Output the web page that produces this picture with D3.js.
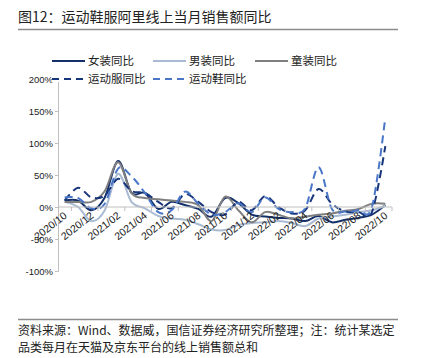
<!DOCTYPE html>
<html>
<head>
<meta charset="utf-8">
<script src="https://cdn.jsdelivr.net/npm/d3@7"></script>
<style>
  body { margin: 0; background: #fff; }
  svg { display: block; font-family: "Liberation Sans", Arial, "Noto Sans CJK SC", sans-serif; }
  .cjk { font-family: "Noto Sans CJK SC", "Noto Sans", sans-serif; }
</style>
</head>
<body>
<div id="chart"></div>
<script>
// months 2020/10 .. 2022/10
const months = ['2020/10','2020/11','2020/12','2021/01','2021/02','2021/03','2021/04','2021/05','2021/06',
  '2021/07','2021/08','2021/09','2021/10','2021/11','2021/12','2022/01','2022/02','2022/03','2022/04',
  '2022/05','2022/06','2022/07','2022/08','2022/09','2022/10'];
const tickLabels = months.filter((m, i) => i % 2 === 0);
const yTicks = [-100, -50, 0, 50, 100, 150, 200];

// 同比 (%)
const womens  = [10, 10, -5, 15, 72, 22, 22, -3, 8, 3, -3, -15, 14, 6, -12, -15, -17, -18, -22, -14, -24, -20, -17, -12, 3];
const mens    = [8, 0, -22, -5, 52, 8, -2, -14, -18, -20, -27, -35, -36, -28, -25, -24, -22, -25, -30, -18, -15, -12, -8, -5, 2];
const kids    = [8, 8, 8, 25, 70, 22, 14, 12, 10, 8, 3, -22, 16, -5, -24, -8, -12, -18, -15, -12, -10, -6, -3, 5, 5];
const apparel = [10, 30, 15, 18, 44, 25, 22, 8, -2, 20, 8, -8, -12, 8, -5, 17, 0, -10, -5, 28, 5, -7, -8, -8, 95];
const shoes   = [15, 14, -2, 5, 60, 48, 22, -8, -5, 24, 5, -12, -8, 6, -8, 15, -3, -8, -2, 62, -3, -7, -5, 0, 140];

const series = [
  { name: '女装同比', values: womens, color: '#13306b', dash: null },
  { name: '男装同比', values: mens, color: '#a9bbd3', dash: null },
  { name: '童装同比', values: kids, color: '#7f7f7f', dash: null },
  { name: '运动服同比', values: apparel, color: '#17357a', dash: '8,5' },
  { name: '运动鞋同比', values: shoes, color: '#4a76c8', dash: '8,5' }
];

const W = 424, H = 358;
const plot = { left: 58, right: 392, top: 79, bottom: 271 };

const svg = d3.select('#chart').append('svg').attr('width', W).attr('height', H);

// title
svg.append('text').attr('class', 'cjk').attr('x', 18).attr('y', 22)
  .attr('font-size', 14).attr('fill', '#222')
  .text('图12：运动鞋服阿里线上当月销售额同比');
svg.append('line').attr('x1', 18).attr('x2', 398).attr('y1', 29.5).attr('y2', 29.5)
  .attr('stroke', '#8c8c8c').attr('stroke-width', 1.5);

const x = d3.scalePoint().domain(months).range([plot.left, plot.right]).padding(0.5);
const band = d3.scaleBand().domain(months).range([plot.left, plot.right]);
const y = d3.scaleLinear().domain([-100, 200]).range([plot.bottom, plot.top]);

// y axis
const yAxis = svg.append('g').attr('transform', `translate(${plot.left},0)`)
  .call(d3.axisLeft(y).tickValues(yTicks).tickSize(3).tickFormat(d => d + '%'));
yAxis.select('.domain').attr('stroke', '#bfbfbf');
yAxis.selectAll('.tick line').attr('stroke', '#bfbfbf');
yAxis.selectAll('.tick text').attr('font-size', 9.5).attr('fill', '#222').attr('x', -5);

// x axis on the zero line
const xg = svg.append('g');
xg.append('line').attr('x1', plot.left).attr('x2', plot.right)
  .attr('y1', y(0)).attr('y2', y(0)).attr('stroke', '#bfbfbf');
const tickPos = months.filter((m, i) => i % 2 === 1).map(m => band(m)).concat([plot.right]);
xg.selectAll('.xt').data(tickPos).join('line').attr('class', 'xt')
  .attr('x1', d => d).attr('x2', d => d).attr('y1', y(0)).attr('y2', y(0) + 4)
  .attr('stroke', '#bfbfbf');

// lines
const line = d3.line().x((d, i) => x(months[i])).y(d => y(d)).curve(d3.curveCardinal.tension(0));
svg.selectAll('.series').data(series).join('path').attr('class', 'series')
  .attr('d', d => line(d.values))
  .attr('fill', 'none').attr('stroke', d => d.color).attr('stroke-width', 2)
  .attr('stroke-dasharray', d => d.dash);

// x tick labels (drawn after the lines)
xg.raise();
xg.selectAll('.xl').data(tickLabels).join('text').attr('class', 'xl')
  .attr('transform', d => `translate(${x(d) + 3},${y(0) + 10}) rotate(-38)`)
  .attr('text-anchor', 'end').attr('font-size', 10.5).attr('fill', '#222')
  .text(d => d);

// legend
const legendPos = [[52, 61], [153, 61], [255, 61], [52, 79], [153, 79]];
const lg = svg.selectAll('.lg').data(series).join('g').attr('class', 'lg')
  .attr('transform', (d, i) => `translate(${legendPos[i][0]},${legendPos[i][1]})`);
lg.append('rect').attr('x', 0).attr('y', -3).attr('width', 36).attr('height', 6).attr('fill', '#fff');
lg.append('line').attr('x1', 0).attr('x2', 33).attr('y1', 0).attr('y2', 0)
  .attr('stroke', d => d.color).attr('stroke-width', 2.2).attr('stroke-dasharray', d => d.dash ? '7,5' : null);
lg.append('text').attr('class', 'cjk').attr('x', 36).attr('y', 4)
  .attr('font-size', 11.5).attr('fill', '#222').text(d => d.name);

// source
svg.append('line').attr('x1', 18).attr('x2', 398).attr('y1', 319.5).attr('y2', 319.5)
  .attr('stroke', '#8c8c8c').attr('stroke-width', 1.5);
const src = ['资料来源：Wind、数据威，国信证券经济研究所整理；注：统计某选定', '品类每月在天猫及京东平台的线上销售额总和'];
svg.selectAll('.src').data(src).join('text').attr('class', 'src cjk')
  .attr('x', 18).attr('y', (d, i) => 335 + i * 17)
  .attr('font-size', 12).attr('fill', '#222').text(d => d);
</script>
</body>
</html>
